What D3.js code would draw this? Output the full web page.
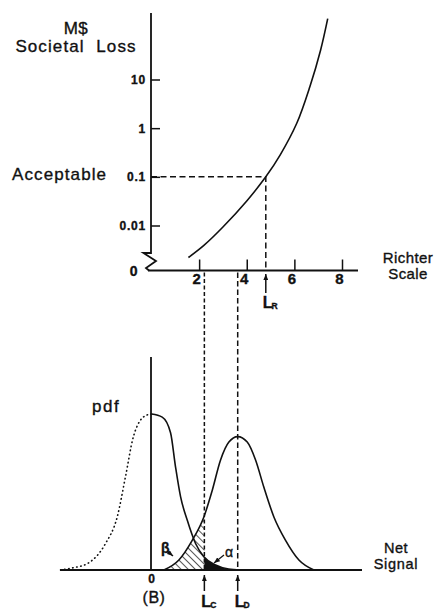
<!DOCTYPE html>
<html>
<head>
<meta charset="utf-8">
<script src="https://cdn.jsdelivr.net/npm/d3@7"></script>
<style>
  body { margin: 0; background: #fff; }
  svg { display: block; font-family: "Liberation Sans", Arial, Helvetica, sans-serif; }
  text { fill: #111; stroke: #111; stroke-width: 0.35px; }
</style>
</head>
<body>
<div id="app"></div>
<script>
// upper panel: societal loss vs richter magnitude
const richter = [1.55, 2.2, 3.0, 4.0, 4.8, 5.4, 6.1, 6.65, 7.1, 7.4];
const lossM = [0.0022, 0.0039, 0.0093, 0.032, 0.1, 0.28, 1.26, 7.1, 40, 178];
const lossTicks = [0.01, 0.1, 1, 10];
const lossTickLabels = ["0.01", "0.1", "1", "10"];
const richterTicks = [2, 4, 6, 8];
const acceptableLoss = 0.1;
const L_R = 4.8;

// lower panel: noise and signal pdfs
const noiseLeftX = [-3.82, -3.33, -2.65, -1.93, -1.44, -1.09, -0.76, -0.25, 0];
const noiseLeftPdf = [0, 0.013, 0.045, 0.17, 0.34, 0.6, 0.855, 0.99, 1];
const noiseRightX = [0, 0.45, 0.8, 1.01, 1.22, 1.5, 1.85, 2.2, 2.69, 3.24, 3.74];
const noiseRightPdf = [1, 0.98, 0.88, 0.66, 0.47, 0.32, 0.17, 0.085, 0.032, 0.006, 0];
const signalX = [0.52, 1.15, 1.71, 2.2, 2.55, 2.9, 3.25, 3.62, 4.02, 4.37, 4.72, 5.14, 5.63, 6.19, 6.82];
const signalPdf = [0, 0.064, 0.19, 0.34, 0.51, 0.705, 0.82, 0.855, 0.82, 0.705, 0.53, 0.34, 0.19, 0.064, 0];
const L_C = 2.22;
const L_D = 3.62;

const W = 437, H = 610;
const ink = "#111";

const svg = d3.select("#app").append("svg")
  .attr("width", W).attr("height", H)
  .attr("viewBox", `0 0 ${W} ${H}`);

// scales (shared x for both panels)
const x = d3.scaleLinear().domain([0, 8]).range([151.5, 342]);
const yLoss = d3.scaleLog().domain([0.01, 10]).range([225.5, 79.5]);
const yPdf = d3.scaleLinear().domain([0, 1]).range([570, 414]);
const topBase = 270.5;
const axisX = 151;

//defs: hatch, arrowhead, clips
const defs = svg.append("defs");
defs.append("pattern")
  .attr("id", "hatch")
  .attr("patternUnits", "userSpaceOnUse")
  .attr("width", 5).attr("height", 5)
  .attr("patternTransform", "rotate(-45)")
  .append("line")
  .attr("x1", 0).attr("y1", 0).attr("x2", 0).attr("y2", 5)
  .attr("stroke", ink).attr("stroke-width", 1.4);

defs.append("marker")
  .attr("id", "arrow")
  .attr("viewBox", "0 0 10 8")
  .attr("refX", 10).attr("refY", 4)
  .attr("markerWidth", 6).attr("markerHeight", 5)
  .attr("markerUnits", "userSpaceOnUse")
  .attr("orient", "auto")
  .append("path").attr("d", "M0,0 L10,4 L0,8 Z").attr("fill", ink);

defs.append("clipPath").attr("id", "leftOfLc")
  .append("rect").attr("x", 0).attr("y", 0).attr("width", x(L_C)).attr("height", H);
defs.append("clipPath").attr("id", "rightOfLc")
  .append("rect").attr("x", x(L_C)).attr("y", 0).attr("width", W - x(L_C)).attr("height", H);

// ---------- upper panel ----------
const upper = svg.append("g");

// acceptable level guide lines
upper.append("path")
  .attr("d", `M${axisX},${yLoss(acceptableLoss)} H${x(L_R)} V${topBase}`)
  .attr("fill", "none").attr("stroke", ink).attr("stroke-width", 1.5)
  .attr("stroke-dasharray", "6,3.5");

// loss curve
const lossLine = d3.line()
  .x((d, i) => x(richter[i]))
  .y((d) => yLoss(d))
  .curve(d3.curveCatmullRom.alpha(0.5));
upper.append("path")
  .attr("d", lossLine(lossM))
  .attr("fill", "none").attr("stroke", ink).attr("stroke-width", 1.6);

// y axis with break
upper.append("path")
  .attr("d", `M${axisX},13 V253 H143.5 L156,261 L146,268 L149,${topBase}`)
  .attr("fill", "none").attr("stroke", ink).attr("stroke-width", 1.8)
  .attr("stroke-linejoin", "miter");
upper.append("line")
  .attr("x1", 148).attr("x2", 358)
  .attr("y1", topBase).attr("y2", topBase)
  .attr("stroke", ink).attr("stroke-width", 1.8);

const yAx = upper.append("g")
  .attr("transform", `translate(${axisX},0)`)
  .call(d3.axisLeft(yLoss).tickValues(lossTicks).tickSize(-9).tickPadding(5)
    .tickFormat((d, i) => lossTickLabels[i]));
yAx.select(".domain").remove();
yAx.selectAll("line").attr("stroke", ink).attr("stroke-width", 1.5);
yAx.selectAll("text")
  .attr("font-size", 12).attr("font-weight", "bold")
  .attr("font-family", "Liberation Sans, Arial, sans-serif")
  .style("letter-spacing", "0.8px").attr("fill", ink);

const xAx = upper.append("g")
  .attr("transform", `translate(0,${topBase})`)
  .call(d3.axisBottom(x).tickValues(richterTicks).tickSize(-11).tickPadding(3));
xAx.select(".domain").remove();
xAx.selectAll("line").attr("stroke", ink).attr("stroke-width", 1.5);
xAx.selectAll("text")
  .attr("font-size", 15).attr("font-weight", "bold")
  .attr("font-family", "Liberation Sans, Arial, sans-serif")
  .attr("dx", "-0.2em").attr("fill", ink);

upper.append("text").attr("x", 137.5).attr("y", 275.5)
  .attr("text-anchor", "end").attr("font-size", 14).attr("font-weight", "bold").text("0");

upper.append("text").attr("x", 76).attr("y", 34)
  .attr("text-anchor", "middle").attr("font-size", 17).style("letter-spacing", "0.5px").text("M$");
upper.append("text").attr("x", 76).attr("y", 52)
  .attr("text-anchor", "middle").attr("font-size", 17)
  .style("white-space", "pre").style("letter-spacing", "1.1px").text("Societal  Loss");
upper.append("text").attr("x", 12).attr("y", 180)
  .attr("font-size", 17).style("letter-spacing", "1.1px").text("Acceptable");
upper.append("text").attr("x", 408).attr("y", 263)
  .attr("text-anchor", "middle").attr("font-size", 15).style("letter-spacing", "0.4px").text("Richter");
upper.append("text").attr("x", 408).attr("y", 278.5)
  .attr("text-anchor", "middle").attr("font-size", 15).style("letter-spacing", "0.4px").text("Scale");

// L_R marker
upper.append("line")
  .attr("x1", x(L_R)).attr("x2", x(L_R)).attr("y1", 293).attr("y2", 274)
  .attr("stroke", ink).attr("stroke-width", 1.5).attr("marker-end", "url(#arrow)");

// ---------- lower panel ----------
const lower = svg.append("g");

const pdfArea = (xs) => d3.area()
  .x((d, i) => x(xs[i]))
  .y0(yPdf(0))
  .y1((d) => yPdf(d))
  .curve(d3.curveMonotoneX);
const pdfLine = (xs) => d3.line()
  .x((d, i) => x(xs[i]))
  .y((d) => yPdf(d))
  .curve(d3.curveMonotoneX);

// beta: hatched signal tail below L_C
lower.append("path")
  .attr("d", pdfArea(signalX)(signalPdf))
  .attr("fill", "url(#hatch)")
  .attr("clip-path", "url(#leftOfLc)");
// alpha: black noise tail above L_C
lower.append("path")
  .attr("d", pdfArea(noiseRightX)(noiseRightPdf))
  .attr("fill", ink)
  .attr("clip-path", "url(#rightOfLc)");

// dashed links from upper scale
lower.append("line")
  .attr("x1", x(L_C)).attr("x2", x(L_C)).attr("y1", topBase + 2).attr("y2", 570)
  .attr("stroke", ink).attr("stroke-width", 1.5).attr("stroke-dasharray", "4,2.5");
lower.append("line")
  .attr("x1", x(L_D)).attr("x2", x(L_D)).attr("y1", topBase + 2).attr("y2", 570)
  .attr("stroke", ink).attr("stroke-width", 1.5).attr("stroke-dasharray", "5.5,3");

// curves
lower.append("path")
  .attr("d", pdfLine(noiseLeftX)(noiseLeftPdf))
  .attr("fill", "none").attr("stroke", ink).attr("stroke-width", 1.6)
  .attr("stroke-linecap", "round").attr("stroke-dasharray", "0.5,3.6");
lower.append("path")
  .attr("d", pdfLine(noiseRightX)(noiseRightPdf))
  .attr("fill", "none").attr("stroke", ink).attr("stroke-width", 1.6);
lower.append("path")
  .attr("d", pdfLine(signalX)(signalPdf))
  .attr("fill", "none").attr("stroke", ink).attr("stroke-width", 1.6);

// axes
lower.append("line")
  .attr("x1", axisX).attr("x2", axisX).attr("y1", 357).attr("y2", yPdf(0))
  .attr("stroke", ink).attr("stroke-width", 1.8);
lower.append("line")
  .attr("x1", 60).attr("x2", 362).attr("y1", yPdf(0)).attr("y2", yPdf(0))
  .attr("stroke", ink).attr("stroke-width", 1.8);

// labels
lower.append("text").attr("x", 92).attr("y", 412)
  .attr("font-size", 17).style("letter-spacing", "1.5px").text("pdf");
lower.append("text").attr("x", 396).attr("y", 552.5)
  .attr("text-anchor", "middle").attr("font-size", 14.5).style("letter-spacing", "0.4px").text("Net");
lower.append("text").attr("x", 396).attr("y", 568.5)
  .attr("text-anchor", "middle").attr("font-size", 14.5).style("letter-spacing", "0.7px").text("Signal");
lower.append("text").attr("x", x(0)).attr("y", 583)
  .attr("text-anchor", "middle").attr("font-size", 12).attr("font-weight", "bold").text("0");
lower.append("text").attr("x", 154).attr("y", 603)
  .attr("text-anchor", "middle").attr("font-size", 16).style("letter-spacing", "0.5px").text("(B)");

lower.append("text").attr("x", 161).attr("y", 553)
  .attr("font-size", 14).attr("font-weight", "bold").text("β");
lower.append("line")
  .attr("x1", 167).attr("y1", 551).attr("x2", 173).attr("y2", 556)
  .attr("stroke", ink).attr("stroke-width", 1.3).attr("marker-end", "url(#arrow)");
lower.append("text").attr("x", 225).attr("y", 557)
  .attr("font-size", 14).text("α");
lower.append("line")
  .attr("x1", 224).attr("y1", 555).attr("x2", 214).attr("y2", 563)
  .attr("stroke", ink).attr("stroke-width", 1.3).attr("marker-end", "url(#arrow)");

// L_C, L_D markers
[L_C, L_D].forEach((v) => {
  lower.append("line")
    .attr("x1", x(v)).attr("x2", x(v)).attr("y1", 591).attr("y2", 575)
    .attr("stroke", ink).attr("stroke-width", 1.5).attr("marker-end", "url(#arrow)");
});

// level labels
const levelLabel = (g, xv, y, sub) => {
  const t = g.append("text").attr("x", x(xv) - 3).attr("y", y)
    .attr("font-size", 16).attr("font-weight", "bold");
  t.append("tspan").text("L");
  t.append("tspan").attr("font-size", 8.5).attr("dx", -1).attr("dy", 1).text(sub);
};
levelLabel(upper, L_R, 308, "R");
levelLabel(lower, L_C, 607, "C");
levelLabel(lower, L_D, 607, "D");
</script>
</body>
</html>
